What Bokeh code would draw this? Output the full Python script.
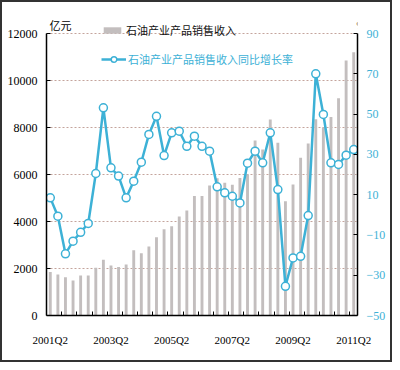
from bokeh.plotting import figure
from bokeh.models import Range1d, LinearAxis, FixedTicker, Legend, LegendItem, Label, ColumnDataSource
from bokeh.embed import file_html
from bokeh.resources import INLINE

quarters = [f"{y}Q{q}" for y in range(2001, 2012) for q in (1, 2, 3, 4)][1:42]
revenue = [1850, 1750, 1630, 1490, 1700, 1700, 2030, 2370, 2130, 2060, 2170,
           2780, 2650, 2940, 3330, 3670, 3800, 4210, 4470, 5080, 5080, 5530,
           5840, 5650, 5560, 5850, 6000, 7450, 7060, 8340, 7350, 4860, 5570,
           6710, 7320, 8350, 8000, 8450, 9250, 10850, 11200]
growth = [8.4, -0.7, -19.4, -13.1, -8.7, -4.3, 20.5, 53.1, 23.3, 19.2, 8.4,
          16.7, 26.1, 39.9, 48.9, 29.4, 40.7, 41.5, 34, 39, 34, 31.6, 13.9,
          10.9, 9.2, 5.9, 25.6, 31.6, 25.8, 40.7, 12.5, -35.5, -21.4, -20.6,
          -0.4, 70, 49.8, 25.8, 25, 29.6, 32.4]
x_tick_labels = ["2001Q2", "2003Q2", "2005Q2", "2007Q2", "2009Q2", "2011Q2"]
left_ticks = [0, 2000, 4000, 6000, 8000, 10000, 12000]
right_ticks = [-50, -30, -10, 10, 30, 50, 70, 90]
bar_name = "石油产业产品销售收入"
line_name = "石油产业产品销售收入同比增长率"

BLUE = "#3db1d6"
BAR = "#c3bebe"
NARROW = "Liberation Sans Narrow"

AXIS_PX = 282          # pixel height of the axis span
TOP_PAD_PX = 22        # free room above the axes for legend / units
frame_h = AXIS_PX + TOP_PAD_PX
pad = TOP_PAD_PX / AXIS_PX

src = ColumnDataSource(dict(x=list(range(len(quarters))), q=quarters,
                            rev=revenue, g=growth))

y_lo, y_hi = left_ticks[0], left_ticks[-1]
r_lo, r_hi = right_ticks[0], right_ticks[-1]

p = figure(width=392, height=362,
           x_range=Range1d(-0.5, len(quarters) - 0.5),
           y_range=Range1d(y_lo, y_hi + (y_hi - y_lo) * pad),
           output_backend="svg", toolbar_location=None,
           min_border_left=44, min_border_right=37,
           min_border_top=9, min_border_bottom=49)
p.styles = {"border": "2px solid #333"}
p.outline_line_color = None
p.extra_y_ranges = {"pct": Range1d(r_lo, r_hi + (r_hi - r_lo) * pad)}

bars = p.vbar(x="x", top="rev", width=0.38, source=src, fill_color=BAR,
              line_color=None)
ln = p.line(x="x", y="g", source=src, y_range_name="pct", line_color=BLUE,
            line_width=2.5)
pts = p.scatter(x="x", y="g", source=src, y_range_name="pct", size=8,
                fill_color="white", line_color=BLUE, line_width=1.5)

# x axis
xa = p.xaxis[0]
xa.ticker = FixedTicker(ticks=[quarters.index(t) for t in x_tick_labels],
                        minor_ticks=[k - 0.5 for k in range(2, len(quarters), 2)])
xa.major_label_overrides = {quarters.index(t): t for t in x_tick_labels}
xa.major_tick_in = 0
xa.major_tick_out = 0
xa.minor_tick_in = 4
xa.minor_tick_out = 0
xa.minor_tick_line_color = "black"
xa.axis_line_color = "black"
xa.axis_line_width = 1.5
xa.major_label_standoff = 18
xa.major_label_text_font = NARROW
xa.major_label_text_font_size = "11px"
xa.major_label_text_color = "black"

# left axis
ya = p.yaxis[0]
ya.ticker = FixedTicker(ticks=left_ticks)
ya.bounds = (y_lo, y_hi)
ya.major_tick_in = 4
ya.major_tick_out = 0
ya.minor_tick_line_color = None
ya.axis_line_color = "black"
ya.axis_line_width = 1.5
ya.major_label_standoff = 9
ya.major_label_text_font = NARROW
ya.major_label_text_font_size = "12px"
ya.major_label_text_color = "black"

# right axis
ra = LinearAxis(y_range_name="pct", ticker=FixedTicker(ticks=right_ticks),
                bounds=(r_lo, r_hi))
ra.major_tick_in = 4
ra.major_tick_out = 0
ra.minor_tick_line_color = None
ra.axis_line_color = "black"
ra.axis_line_width = 1.5
ra.major_label_standoff = 9
ra.major_label_text_font = NARROW
ra.major_label_text_font_size = "12px"
ra.major_label_text_color = BLUE
p.add_layout(ra, "right")

p.xgrid.grid_line_color = None
p.ygrid.ticker = FixedTicker(ticks=left_ticks)
p.ygrid.grid_line_color = "#c4a49c"
p.ygrid.grid_line_dash = "2 2"
p.ygrid.grid_line_width = 1

p.add_layout(Label(x=-0.5, y=y_hi, x_offset=3, y_offset=1, text="亿元",
                   text_font="Noto Sans CJK SC", text_font_size="11px",
                   text_baseline="bottom", text_color="black"))
p.add_layout(Label(x=len(quarters) - 0.5, y=r_hi, y_range_name="pct",
                   x_offset=-1, y_offset=3, text="%", text_font=NARROW,
                   text_font_size="10px", text_baseline="bottom",
                   text_color="black"))

leg1 = Legend(items=[LegendItem(label=bar_name, renderers=[bars])],
              location=(55, frame_h - 27), padding=0, margin=0, spacing=0,
              glyph_width=22, glyph_height=8, label_height=14,
              label_standoff=3, background_fill_alpha=0,
              border_line_color=None, label_text_font="Noto Sans CJK SC",
              label_text_font_size="11px", label_text_color="#111")
leg2 = Legend(items=[LegendItem(label=line_name, renderers=[ln, pts])],
              location=(55, frame_h - 56), padding=0, margin=0, spacing=0,
              glyph_width=25, glyph_height=14, label_height=14,
              label_standoff=2, background_fill_alpha=0,
              border_line_color=None, label_text_font="Noto Sans CJK SC",
              label_text_font_size="11px", label_text_color=BLUE)
p.add_layout(leg1, "center")
p.add_layout(leg2, "center")

open("out.html", "w").write(file_html(p, INLINE))
